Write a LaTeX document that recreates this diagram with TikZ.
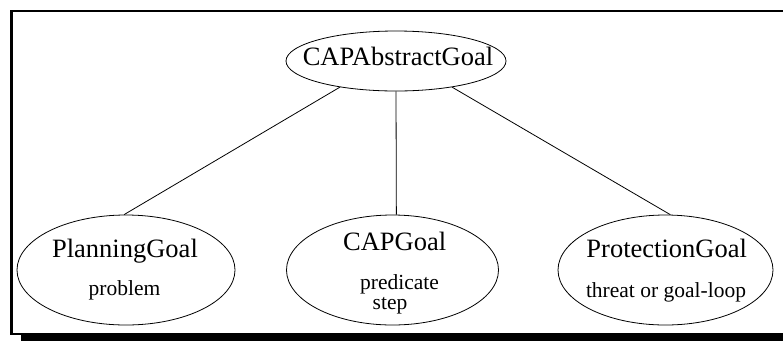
\documentclass[tikz,border=0pt]{standalone}
\usepackage{fontspec}
\setmainfont{Liberation Serif}
\usetikzlibrary{shapes.geometric}
\begin{document}
\begin{tikzpicture}[x=1pt,y=-1pt,
  goal/.style={draw, ellipse, line width=0.8pt, inner sep=0pt},
  title/.style={anchor=base, inner sep=0pt, font=\fontsize{26.5}{30}\selectfont},
  detail/.style={anchor=base, inner sep=0pt, font=\fontsize{21.5}{25}\selectfont},
  link/.style={line width=0.8pt}]
\useasboundingbox (0,0) rectangle (783,341);

% frame with drop shadow
\fill (21,333) rectangle (783,341);
\draw[line width=2.6pt] (783,11) -- (11.5,11) -- (11.5,334) -- (21,334);

% goal ellipses
\node[goal, minimum width=220pt, minimum height=60pt] (top) at (396,61) {};
\node[goal, minimum width=218pt, minimum height=110pt] (plan) at (126,270) {};
\node[goal, minimum width=212pt, minimum height=110pt] (cap) at (392.5,270) {};
\node[goal, minimum width=215pt, minimum height=110pt] (prot) at (665.5,270) {};

% labels
\node[title] (topname) at (398,65) {CAPAbstractGoal};
\node[title] (planname) at (125,257) {PlanningGoal};
\node[detail] (plandet) at (124.5,295) {problem};
\node[title] (capname) at (394.7,250) {CAPGoal};
\node[detail] (capdet1) at (399.5,289.5) {predicate};
\node[detail] (capdet2) at (390,309) {step};
\node[title] (protname) at (666.7,257) {ProtectionGoal};
\node[detail] (protdet) at (666,297) {threat or goal-loop};

% hierarchy links
\draw[link] (top.205) -- (plan.92);
\draw[link] (top.south) -- (cap.86.4);
\draw[link] (top.335) -- (prot.85);
\end{tikzpicture}
\end{document}
